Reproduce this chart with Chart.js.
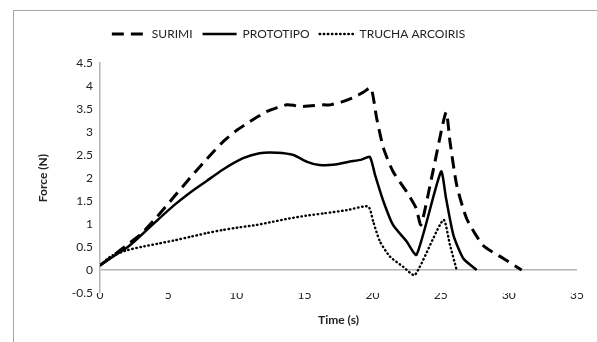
<!DOCTYPE html>
<html>
<head>
<meta charset="utf-8">
<script src="https://cdn.jsdelivr.net/npm/chart.js@4.4.1/dist/chart.umd.min.js"></script>
<style>
  html, body { margin: 0; padding: 0; background: #fff; }
  #wrap { position: relative; width: 597px; height: 342px; }
</style>
</head>
<body>
<div id="wrap"><canvas id="forceChart" width="597" height="342"></canvas></div>
<script>
const seriesNames = ["SURIMI", "PROTOTIPO", "TRUCHA ARCOIRIS"];

// time (s) and force (N)
const surimiTime = [0, 1, 2, 3, 4.2, 5.4, 6.6, 7.8, 9, 10, 10.8, 11.5, 12.2, 13, 13.7, 14.2, 14.7, 15.5, 16.4, 16.9, 17.8, 18.6, 19.3, 19.88, 20.3, 20.8, 21.5, 22.5, 23.2, 23.55, 24.4, 25.39, 25.68, 26.17, 26.9, 28.1, 29.6, 30.94];
const surimiForce = [0.1, 0.32, 0.55, 0.78, 1.16, 1.58, 2.0, 2.4, 2.78, 3.03, 3.19, 3.32, 3.44, 3.53, 3.59, 3.58, 3.55, 3.57, 3.59, 3.59, 3.66, 3.75, 3.86, 3.96, 3.3, 2.65, 2.14, 1.7, 1.34, 0.98, 2.1, 3.43, 2.79, 1.85, 1.12, 0.54, 0.25, 0];

const protoTime = [0, 1, 2.08, 3, 4.2, 5.4, 6.6, 7.8, 9, 10.5, 11.7, 13, 14.2, 15.2, 16.1, 17.4, 18.2, 19.2, 19.8, 20.18, 20.8, 21.5, 22.5, 23.23, 25.02, 25.39, 25.93, 26.66, 27.64];
const protoForce = [0.1, 0.3, 0.51, 0.75, 1.08, 1.4, 1.68, 1.93, 2.18, 2.43, 2.54, 2.55, 2.5, 2.35, 2.28, 2.3, 2.35, 2.4, 2.46, 2.07, 1.49, 0.98, 0.62, 0.33, 2.14, 1.56, 0.76, 0.25, 0];

const truchaTime = [0, 0.8, 2, 3, 4.2, 5.4, 6.6, 7.8, 9, 10.3, 11.5, 12.7, 13.9, 15.1, 16.4, 18.1, 19.68, 20.05, 20.54, 21.28, 22.25, 23.1, 25.19, 25.68, 26.17];
const truchaForce = [0.1, 0.3, 0.43, 0.5, 0.57, 0.64, 0.72, 0.8, 0.87, 0.93, 0.98, 1.05, 1.12, 1.18, 1.23, 1.3, 1.38, 1.05, 0.62, 0.29, 0.07, -0.11, 1.09, 0.54, 0];

const xTicks = [0, 5, 10, 15, 20, 25, 30, 35];
const yTicks = [-0.5, 0, 0.5, 1, 1.5, 2, 2.5, 3, 3.5, 4, 4.5];

const axisGray = "#b4b4b4";
const textColor = "#222";
const fontFamily = "Lato, 'Open Sans', sans-serif";

function toPoints(xs, ys) {
  return xs.map((x, i) => ({ x: x, y: ys[i] }));
}

// thin grey frame top/left, like the pasted office chart
const framePlugin = {
  id: "frame",
  beforeInit(chart) {
    // leave room under the legend so the plot starts where the original does
    const fit = chart.legend.fit;
    chart.legend.fit = function () {
      fit.call(this);
      this.height = 45;
    };
  },
  beforeDraw(chart) {
    const ctx = chart.ctx;
    ctx.save();
    ctx.strokeStyle = "#a6a6a6";
    ctx.lineWidth = 1;
    ctx.beginPath();
    ctx.moveTo(13.5, 342);
    ctx.lineTo(13.5, 10.5);
    ctx.lineTo(597, 10.5);
    ctx.stroke();
    ctx.restore();
  }
};

new Chart(document.getElementById("forceChart"), {
  type: "line",
  data: {
    datasets: [
      {
        label: seriesNames[0],
        data: toPoints(surimiTime, surimiForce),
        borderColor: "#000",
        backgroundColor: "#000",
        borderWidth: 3,
        borderDash: [12, 7]
      },
      {
        label: seriesNames[1],
        data: toPoints(protoTime, protoForce),
        borderColor: "#000",
        backgroundColor: "#000",
        borderWidth: 2.5
      },
      {
        label: seriesNames[2],
        data: toPoints(truchaTime, truchaForce),
        borderColor: "#000",
        backgroundColor: "#000",
        borderWidth: 2.4,
        borderDash: [0.5, 3.6],
        borderCapStyle: "round"
      }
    ]
  },
  options: {
    responsive: false,
    animation: false,
    layout: { padding: { left: 0, right: 20, top: 18, bottom: 0 } },
    elements: {
      point: { radius: 0 },
      line: { tension: 0.2 }
    },
    plugins: {
      tooltip: { enabled: false },
      legend: {
        position: "top",
        labels: {
          usePointStyle: true,
          pointStyle: "line",
          pointStyleWidth: 34,
          padding: 10,
          color: textColor,
          font: { family: fontFamily, size: 12 },
          generateLabels(chart) {
            return chart.data.datasets.map((ds, i) => ({
              text: ds.label,
              datasetIndex: i,
              fillStyle: ds.borderColor,
              strokeStyle: ds.borderColor,
              fontColor: textColor,
              lineWidth: ds.borderWidth,
              lineDash: ds.borderDash || [],
              lineCap: ds.borderCapStyle || "butt",
              pointStyle: "line",
              hidden: false
            }));
          }
        }
      }
    },
    scales: {
      x: {
        type: "linear",
        min: 0,
        max: 35,
        afterBuildTicks: s => { s.ticks = xTicks.map(v => ({ value: v })); },
        afterFit: s => { s.height = 49; },
        grid: { display: false, drawTicks: false },
        border: { display: false },
        ticks: { color: textColor, padding: -5, font: { family: fontFamily, size: 12 } },
        title: {
          display: true,
          text: "Time (s)",
          color: textColor,
          font: { family: fontFamily, size: 12, weight: "bold" },
          padding: { top: 0, bottom: 15 }
        }
      },
      y: {
        min: -0.5,
        max: 4.5,
        afterBuildTicks: s => { s.ticks = yTicks.map(v => ({ value: v })); },
        afterFit: s => { s.width = 100; },
        grid: {
          drawTicks: false,
          color: c => (c.tick && c.tick.value === 0 ? axisGray : "rgba(0,0,0,0)"),
          lineWidth: 1.5
        },
        border: { display: true, color: axisGray, width: 1.5 },
        ticks: {
          color: textColor,
          padding: 7,
          font: { family: fontFamily, size: 12 },
          callback: v => String(v)
        },
        title: {
          display: true,
          text: "Force (N)",
          color: textColor,
          font: { family: fontFamily, size: 12, weight: "bold" },
          padding: { top: 36, bottom: 0 }
        }
      }
    }
  },
  plugins: [framePlugin]
});
</script>
</body>
</html>
